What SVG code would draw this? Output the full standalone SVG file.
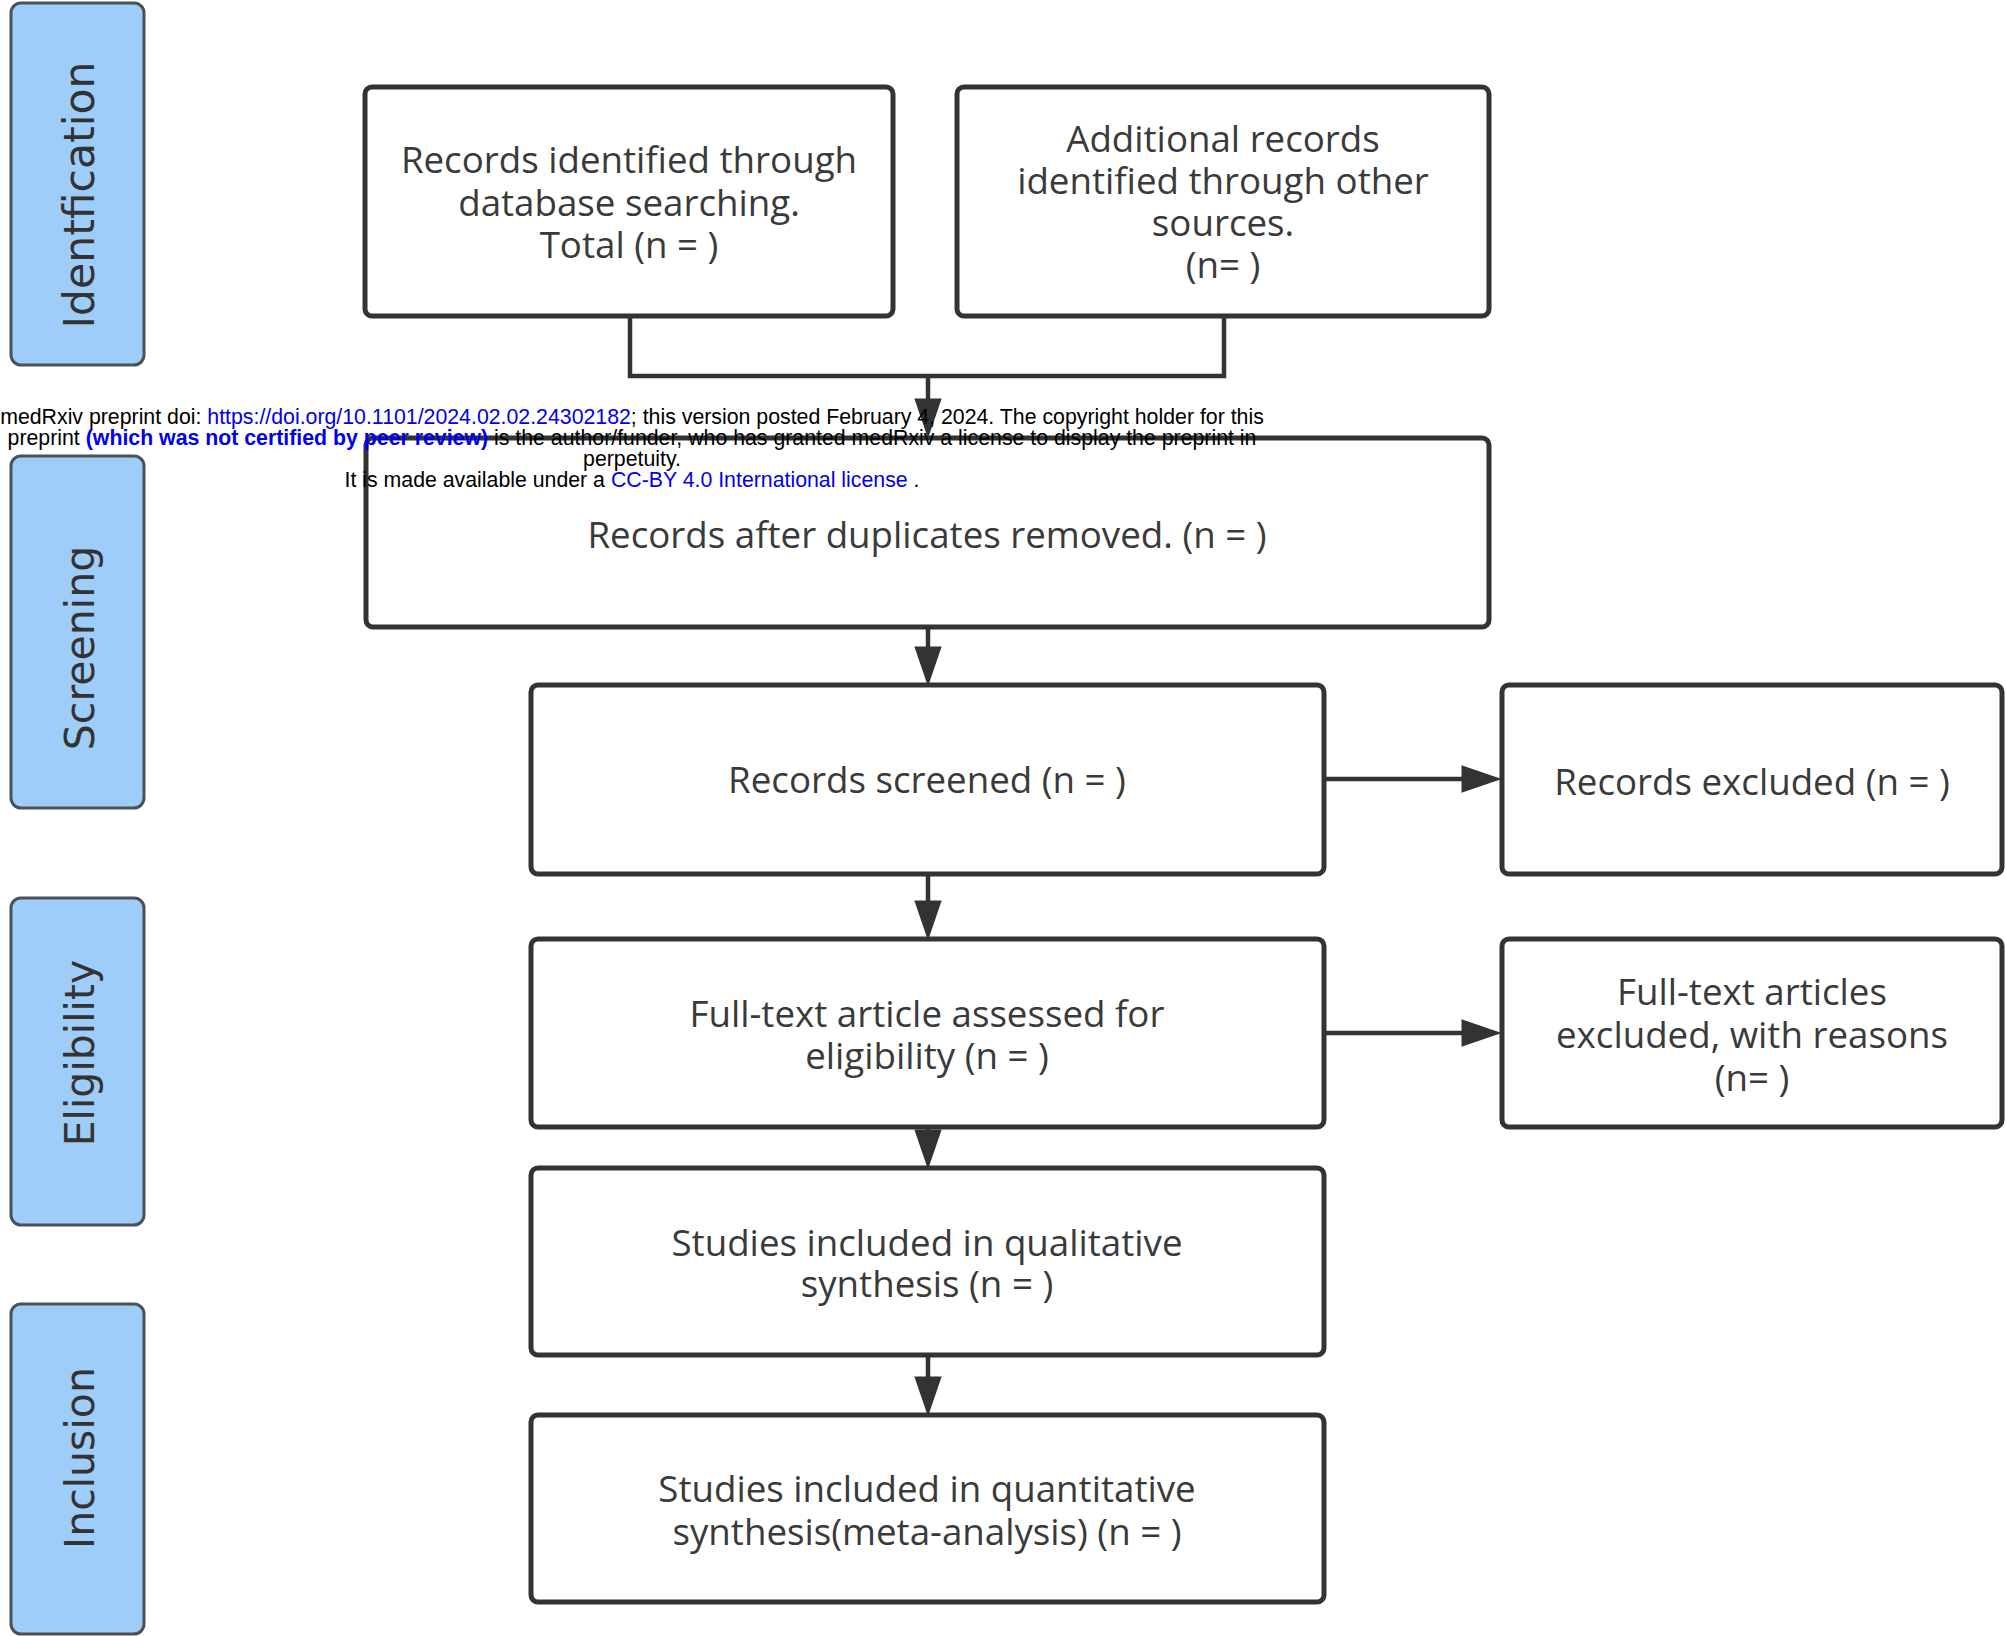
<svg xmlns="http://www.w3.org/2000/svg" width="2006" height="1636" viewBox="0 0 2006 1636">
<style>
.bg{fill:#ffffff}
.phase rect{fill:#9fcdf9;stroke:#4b5157;stroke-width:3}
.phase text{font-family:"DejaVu Sans",sans-serif;font-size:41px;fill:#333;text-anchor:middle}
.box rect{fill:#ffffff;stroke:#333;stroke-width:5}
.box text{font-family:"Open Sans","Noto Sans",sans-serif;font-size:36.7px;fill:#3a3a3a;text-anchor:middle}
.conn path{fill:none;stroke:#333;stroke-width:4.5}
.wm{font-family:"Liberation Sans",Arial,sans-serif;font-size:21.3px;fill:#000;text-anchor:middle}
.lnk{fill:#0000ee}
.bold{font-weight:bold}
</style>
<defs>
<marker id="ah" markerUnits="userSpaceOnUse" markerWidth="40" markerHeight="28" viewBox="0 0 38 26" refX="10" refY="13" orient="auto">
<path d="M0,0 L38,13 L0,26 z" fill="#333"/>
</marker>
</defs>
<rect class="bg" x="0" y="0" width="2006" height="1636"/>

<g id="phase-identification" class="phase">
<rect x="11" y="3" width="133" height="362" rx="10"/>
<text transform="translate(94,195) rotate(-90)" style="font-size:42.5px">Identfication</text>
</g>
<g id="phase-screening" class="phase">
<rect x="11" y="456" width="133" height="352" rx="10"/>
<text transform="translate(94,648) rotate(-90)">Screening</text>
</g>
<g id="phase-eligibility" class="phase">
<rect x="11" y="898" width="133" height="327" rx="10"/>
<text transform="translate(94,1053) rotate(-90)">Eligibility</text>
</g>
<g id="phase-inclusion" class="phase">
<rect x="11" y="1304" width="133" height="330" rx="10"/>
<text transform="translate(94,1458) rotate(-90)">Inclusion</text>
</g>

<g id="connectors" class="conn">
<path d="M630,316 V376 H1224 V316"/>
<path d="M928,376 V409" marker-end="url(#ah)"/>
<path d="M928,627 V657" marker-end="url(#ah)"/>
<path d="M928,874 V911" marker-end="url(#ah)"/>
<path d="M928,1127 V1140" marker-end="url(#ah)"/>
<path d="M928,1355 V1387" marker-end="url(#ah)"/>
<path d="M1324,779 H1472" marker-end="url(#ah)"/>
<path d="M1324,1033 H1472" marker-end="url(#ah)"/>
</g>

<g id="node-database" class="box">
<rect x="365" y="87" width="528" height="229" rx="7"/>
<text x="629" y="173">Records identified through</text>
<text x="629" y="216">database searching.</text>
<text x="629" y="258">Total (n = )</text>
</g>
<g id="node-other-sources" class="box">
<rect x="957" y="87" width="532" height="229" rx="7"/>
<text x="1223" y="152">Additional records</text>
<text x="1223" y="194">identified through other</text>
<text x="1223" y="236">sources.</text>
<text x="1223" y="278">(n= )</text>
</g>
<g id="node-duplicates" class="box">
<rect x="366" y="438" width="1123" height="189" rx="7"/>
<text x="927" y="548">Records after duplicates removed. (n = )</text>
</g>
<g id="node-screened" class="box">
<rect x="531" y="685" width="793" height="189" rx="7"/>
<text x="927" y="793">Records screened (n = )</text>
</g>
<g id="node-excluded" class="box">
<rect x="1502" y="685" width="500" height="189" rx="7"/>
<text x="1752" y="795">Records excluded (n = )</text>
</g>
<g id="node-fulltext" class="box">
<rect x="531" y="939" width="793" height="188" rx="7"/>
<text x="927" y="1027">Full-text article assessed for</text>
<text x="927" y="1069">eligibility (n = )</text>
</g>
<g id="node-fulltext-excluded" class="box">
<rect x="1502" y="939" width="500" height="188" rx="7"/>
<text x="1752" y="1005">Full-text articles</text>
<text x="1752" y="1048">excluded, with reasons</text>
<text x="1752" y="1091">(n= )</text>
</g>
<g id="node-qualitative" class="box">
<rect x="531" y="1168" width="793" height="187" rx="7"/>
<text x="927" y="1256">Studies included in qualitative</text>
<text x="927" y="1297">synthesis (n = )</text>
</g>
<g id="node-quantitative" class="box">
<rect x="531" y="1415" width="793" height="187" rx="7"/>
<text x="927" y="1502">Studies included in quantitative</text>
<text x="927" y="1545">synthesis(meta-analysis) (n = )</text>
</g>

<g id="watermark">
<text class="wm" x="632" y="424">medRxiv preprint doi: <tspan class="lnk">https://doi.org/10.1101/2024.02.02.24302182</tspan>; this version posted February 4, 2024. The copyright holder for this</text>
<text class="wm" x="632" y="445">preprint  <tspan class="lnk bold">(which was not certified by peer review)</tspan> is the author/funder, who has granted medRxiv a license to display the preprint in</text>
<text class="wm" x="632" y="466">perpetuity.</text>
<text class="wm" x="632" y="487">It is made available under a <tspan class="lnk">CC-BY 4.0 International license</tspan> .</text>
</g>
</svg>
